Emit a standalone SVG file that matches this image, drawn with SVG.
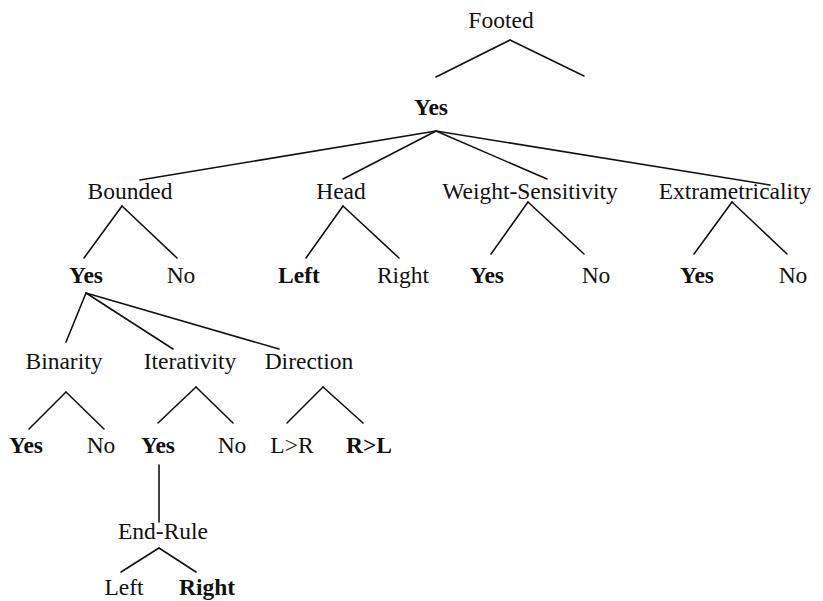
<svg xmlns="http://www.w3.org/2000/svg" width="823" height="601" viewBox="0 0 823 601">
  <style>
    text { font-family: "Liberation Serif", "Times New Roman", serif; font-size: 23.5px; fill: #111; text-anchor: middle; }
    .b { font-weight: bold; }
    #edges line { stroke: #111; stroke-width: 1.6; stroke-linecap: round; }
  </style>
  <rect width="823" height="601" fill="#fff"/>

  <g id="edges">
    <!-- Footed -->
    <line x1="510" y1="40" x2="436" y2="77"/>
    <line x1="510" y1="40" x2="584" y2="76"/>
    <!-- Yes (Footed) to parameters -->
    <line x1="436" y1="131" x2="140" y2="180"/>
    <line x1="436" y1="131" x2="343" y2="179"/>
    <line x1="436" y1="131" x2="547" y2="179"/>
    <line x1="436" y1="131" x2="770" y2="185"/>
    <!-- Bounded -->
    <line x1="122" y1="206" x2="84" y2="258"/>
    <line x1="122" y1="206" x2="177" y2="258"/>
    <!-- Head -->
    <line x1="343" y1="206" x2="306" y2="258"/>
    <line x1="343" y1="206" x2="399" y2="258"/>
    <!-- Weight-Sensitivity -->
    <line x1="528" y1="202" x2="491" y2="254"/>
    <line x1="528" y1="202" x2="584" y2="254"/>
    <!-- Extrametricality -->
    <line x1="732" y1="202" x2="694" y2="254"/>
    <line x1="732" y1="202" x2="787" y2="254"/>
    <!-- Yes (Bounded) to sub-parameters -->
    <line x1="86" y1="293" x2="66" y2="342"/>
    <line x1="86" y1="293" x2="173" y2="349"/>
    <line x1="86" y1="293" x2="279" y2="349"/>
    <!-- Binarity -->
    <line x1="66" y1="392" x2="29" y2="429"/>
    <line x1="66" y1="392" x2="104" y2="429"/>
    <!-- Iterativity -->
    <line x1="196" y1="387" x2="158" y2="423"/>
    <line x1="196" y1="387" x2="233" y2="423"/>
    <!-- Direction -->
    <line x1="323" y1="387" x2="287" y2="423"/>
    <line x1="323" y1="387" x2="363" y2="423"/>
    <!-- Yes (Iterativity) to End-Rule -->
    <line x1="159" y1="465" x2="159" y2="522"/>
    <!-- End-Rule -->
    <line x1="159" y1="548" x2="121" y2="572"/>
    <line x1="159" y1="548" x2="196" y2="572"/>
  </g>

  <g id="footed"><text x="501" y="28">Footed</text></g>
  <g id="footed-yes"><text class="b" x="431" y="115">Yes</text></g>

  <g id="bounded"><text x="130" y="199">Bounded</text></g>
  <g id="head"><text x="341" y="199">Head</text></g>
  <g id="weight-sensitivity"><text x="530" y="199">Weight-Sensitivity</text></g>
  <g id="extrametricality"><text x="735" y="199">Extrametricality</text></g>

  <g id="bounded-yes"><text class="b" x="86" y="283">Yes</text></g>
  <g id="bounded-no"><text x="181" y="283">No</text></g>
  <g id="head-left"><text class="b" x="299" y="283">Left</text></g>
  <g id="head-right"><text x="403" y="283">Right</text></g>
  <g id="ws-yes"><text class="b" x="487" y="283">Yes</text></g>
  <g id="ws-no"><text x="596" y="283">No</text></g>
  <g id="extra-yes"><text class="b" x="697" y="283">Yes</text></g>
  <g id="extra-no"><text x="793" y="283">No</text></g>

  <g id="binarity"><text x="64" y="369">Binarity</text></g>
  <g id="iterativity"><text x="190" y="369">Iterativity</text></g>
  <g id="direction"><text x="309" y="369">Direction</text></g>

  <g id="binarity-yes"><text class="b" x="26" y="453">Yes</text></g>
  <g id="binarity-no"><text x="101" y="453">No</text></g>
  <g id="iterativity-yes"><text class="b" x="158" y="453">Yes</text></g>
  <g id="iterativity-no"><text x="232" y="453">No</text></g>
  <g id="direction-lr"><text x="292" y="453">L&gt;R</text></g>
  <g id="direction-rl"><text class="b" x="369" y="453">R&gt;L</text></g>

  <g id="end-rule"><text x="163" y="539">End-Rule</text></g>
  <g id="end-rule-left"><text x="124" y="595">Left</text></g>
  <g id="end-rule-right"><text class="b" x="207" y="595">Right</text></g>
</svg>
